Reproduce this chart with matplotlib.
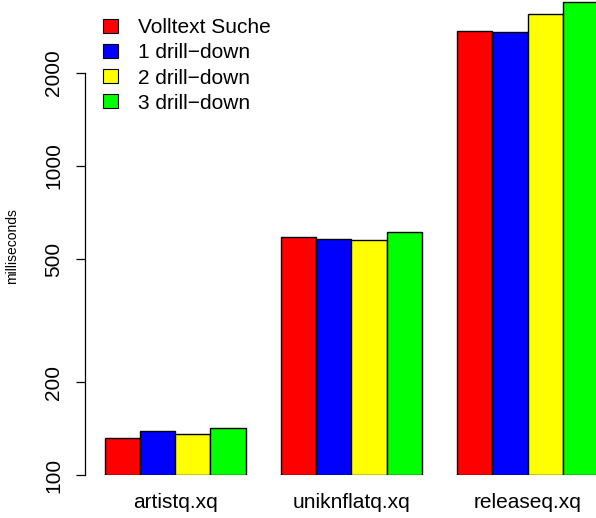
import numpy as np
import matplotlib
matplotlib.use("Agg")
import matplotlib.pyplot as plt
from matplotlib.patches import Patch

# data (milliseconds, log scale)
queries = ["artistq.xq", "uniknflatq.xq", "releaseq.xq"]
series = ["Volltext Suche", "1 drill\u2212down", "2 drill\u2212down", "3 drill\u2212down"]
volltext = [132, 589, 2722]
drill1 = [139, 581, 2712]
drill2 = [136, 577, 3094]
drill3 = [142.5, 612, 3383]
colors = ["#FF0000", "#0000FF", "#FFFF00", "#00FF00"]
yticks = [100, 200, 500, 1000, 2000]

plt.rcParams["font.family"] = ["Liberation Sans", "DejaVu Sans"]

fig = plt.figure(figsize=(5.96, 5.18), dpi=100)
# plot region: left edge at the y axis, bottom at 100 ms
ax = fig.add_axes([85 / 596, (518 - 475.3) / 518, (596 - 85) / 596, 475.3 / 518])

values = [volltext, drill1, drill2, drill3]
for s, vals in enumerate(values):
    x = 1 + 5 * np.arange(len(queries)) + s
    ax.bar(x, np.array(vals) - 100, bottom=100, width=1, align="edge",
           color=colors[s], edgecolor="black", linewidth=1)

ax.set_yscale("log")
ax.set_ylim(100, 10 ** (2 + 475.3 / 309.3))
ax.set_xlim(0.44, 0.44 + 511 / 35.25)

ax.set_yticks(yticks)
ax.set_yticklabels([str(t) for t in yticks])
ax.yaxis.set_minor_locator(matplotlib.ticker.NullLocator())
ax.tick_params(axis="y", length=6.5, width=0.9, pad=9, labelsize=15)
for lab in ax.get_yticklabels():
    lab.set_rotation(90)
    lab.set_va("center")

ax.set_xticks(3 + 5 * np.arange(len(queries)))
ax.set_xticklabels(queries)
ax.tick_params(axis="x", length=0, pad=13, labelsize=15)

for side in ["top", "right", "bottom"]:
    ax.spines[side].set_visible(False)
ax.spines["left"].set_bounds(100, 2000)
ax.spines["left"].set_linewidth(0.9)

fig.text(12 / 596, 1 - 246 / 518, "milliseconds", rotation=90,
         ha="center", va="center", fontsize=10)

handles = [Patch(facecolor=c, edgecolor="black", linewidth=0.8) for c in colors]
ax.legend(handles, series, loc="upper left", bbox_to_anchor=(103 / 596, 1 - 18 / 518),
          bbox_transform=fig.transFigure, frameon=False, fontsize=15,
          handlelength=0.7, handleheight=0.65, handletextpad=0.98,
          labelspacing=0.3, borderpad=0, borderaxespad=0)

plt.savefig("out.png", dpi=100)
